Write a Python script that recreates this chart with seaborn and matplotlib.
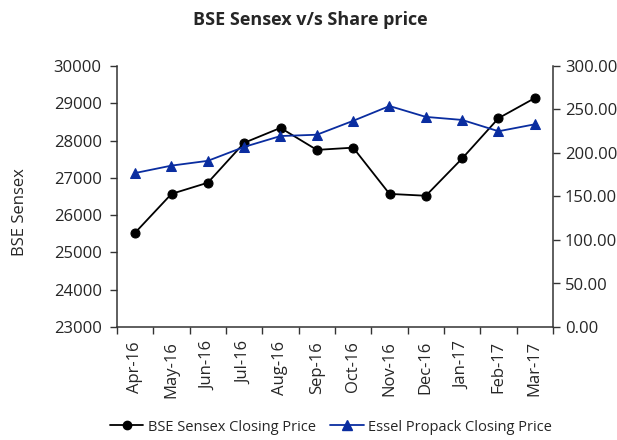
import numpy as np
import pandas as pd
import matplotlib
matplotlib.use("Agg")
import matplotlib.pyplot as plt
from matplotlib.lines import Line2D
from matplotlib.ticker import FixedLocator, FixedFormatter, FuncFormatter
import seaborn as sns

months = ["Apr-16", "May-16", "Jun-16", "Jul-16", "Aug-16", "Sep-16",
          "Oct-16", "Nov-16", "Dec-16", "Jan-17", "Feb-17", "Mar-17"]
bse_sensex = [25530, 26570, 26870, 27940, 28340, 27750,
              27810, 26570, 26520, 27520, 28600, 29140]
essel_price = [177, 185.5, 191, 207, 219.5, 221,
               237, 254, 241.5, 238, 225, 233]
left_ticks = [23000, 24000, 25000, 26000, 27000, 28000, 29000, 30000]
right_ticks = [0, 50, 100, 150, 200, 250, 300]

sns.set_style("white")
plt.rcParams["font.family"] = ["Open Sans", "DejaVu Sans"]

df = pd.DataFrame({"x": np.arange(len(months)), "bse": bse_sensex, "essel": essel_price})

fig = plt.figure(figsize=(6.17, 4.40), dpi=100)
ax = fig.add_axes([117/617, 1 - 327/440, (553-117)/617, (327-66)/440])
ax2 = ax.twinx()

blue = "#0A2DA0"
sns.lineplot(data=df, x="x", y="bse", ax=ax, color="black", marker="o",
             markersize=6.5, linewidth=1.3, markeredgecolor="black", legend=False)
sns.lineplot(data=df, x="x", y="essel", ax=ax2, color=blue, marker="^",
             markersize=7, linewidth=1.3, markeredgecolor=blue, legend=False)

ax.set_xlim(-0.5, len(months) - 0.5)
ax.set_ylim(left_ticks[0], left_ticks[-1])
ax2.set_ylim(right_ticks[0], right_ticks[-1])

# category boundaries as major ticks, labels on minor ticks
ax.xaxis.set_major_locator(FixedLocator(np.arange(len(months) + 1) - 0.5))
ax.xaxis.set_major_formatter(FixedFormatter([""] * (len(months) + 1)))
ax.xaxis.set_minor_locator(FixedLocator(np.arange(len(months))))
ax.xaxis.set_minor_formatter(FixedFormatter(months))
ax.tick_params(axis="x", which="major", direction="out", length=5, width=1, color="#333333", bottom=True)
ax.tick_params(axis="x", which="minor", length=0, labelsize=12, pad=10, labelrotation=90)
ax.set_yticks(left_ticks)
ax.tick_params(axis="y", which="major", direction="out", length=5, width=1, color="#333333",
               labelsize=12, left=True, pad=6)
ax2.set_yticks(right_ticks)
ax2.yaxis.set_major_formatter(FuncFormatter(lambda v, p: f"{v:.2f}"))
ax2.tick_params(axis="y", which="major", direction="out", length=5, width=1, color="#333333",
                labelsize=12, right=True, pad=3.5)

for a in (ax, ax2):
    a.spines["top"].set_visible(False)
    for s in ("left", "right", "bottom"):
        a.spines[s].set_color("#333333")
        a.spines[s].set_linewidth(1.1)
ax.spines["right"].set_visible(False)
ax2.spines["left"].set_visible(False)
ax2.spines["bottom"].set_visible(False)

ax.set_xlabel("")
ax.set_ylabel("BSE Sensex", fontsize=12)
ax.yaxis.set_label_coords(-(117 - 20) / 436, (327 - 212) / 261)
ax.yaxis.label.set_va("center")
ax2.set_ylabel("")

fig.text(310/617, 1 - 20/440, "BSE Sensex v/s Share price", ha="center", va="center",
         fontsize=13, fontweight="bold")

handles = [Line2D([], [], color="black", marker="o", markersize=6, linewidth=1.3),
           Line2D([], [], color=blue, marker="^", markersize=6.5, linewidth=1.3)]
fig.legend(handles, ["BSE Sensex Closing Price", "Essel Propack Closing Price"],
           loc="center", bbox_to_anchor=(331/617, 1 - 427/440), ncol=2, frameon=False,
           fontsize=10.5, handlelength=2.3, handletextpad=0.3, columnspacing=1.0)

fig.savefig("out.png", dpi=100)
